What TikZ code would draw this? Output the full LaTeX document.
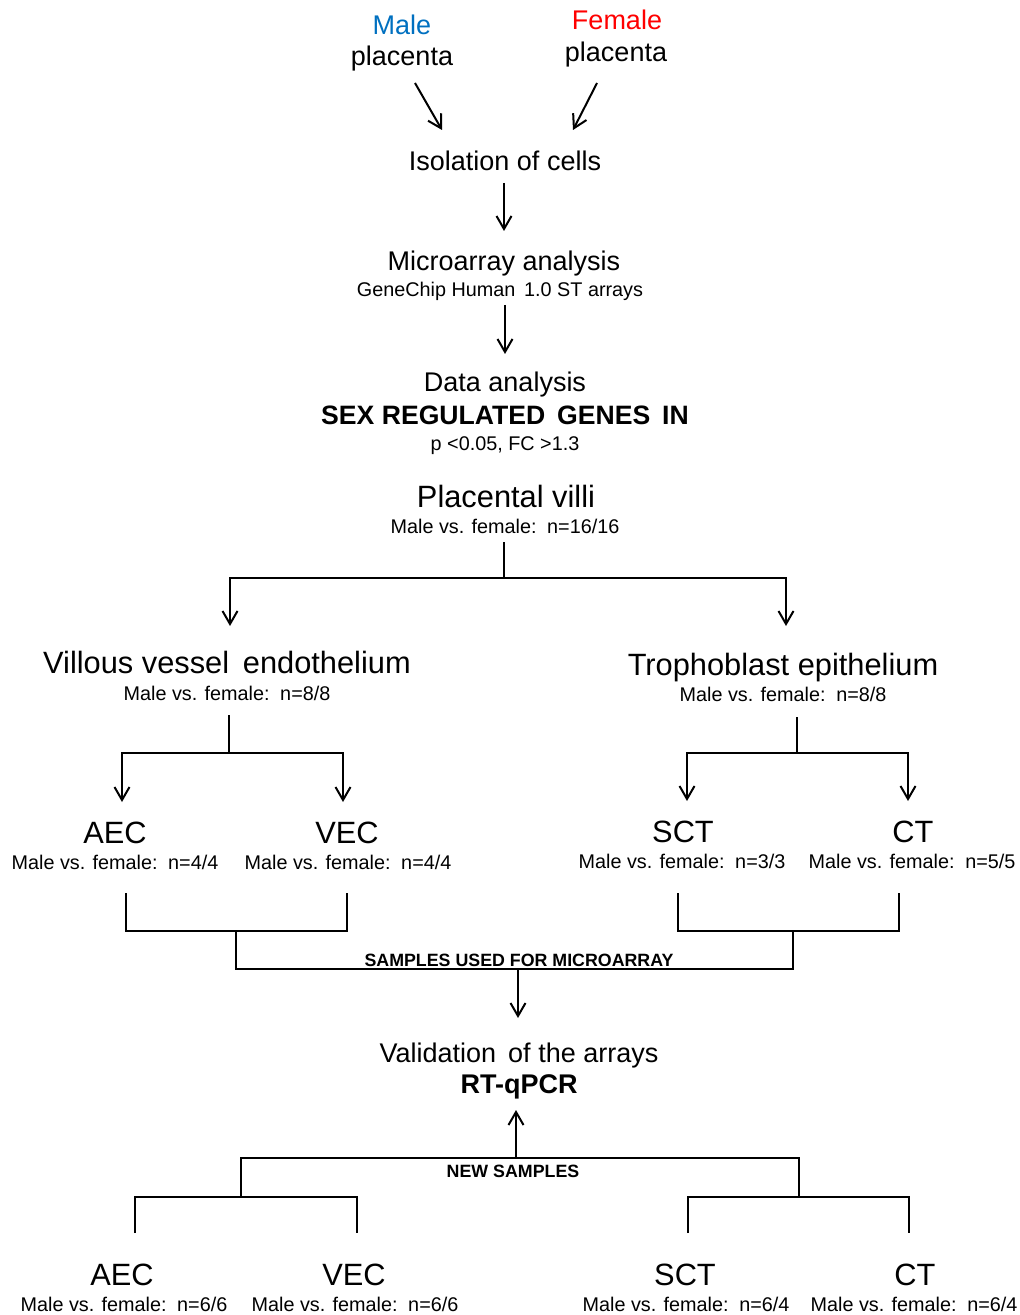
\documentclass[tikz,border=0pt]{standalone}
\usepackage{fontspec}
\setmainfont{Liberation Sans}
\usetikzlibrary{arrows.meta}
\definecolor{maleblue}{RGB}{0,112,192}
\definecolor{femalered}{RGB}{255,0,0}
\tikzset{
    big/.style={anchor=base, inner sep=0pt, font=\fontsize{15.4}{18}\selectfont},
    mid/.style={anchor=base, inner sep=0pt, font=\fontsize{13.5}{16}\selectfont},
    sml/.style={anchor=base, inner sep=0pt, font=\fontsize{9.9}{12}\selectfont},
    tag/.style={anchor=base, inner sep=0pt, font=\fontsize{8.9}{10}\selectfont\bfseries},
    link/.style={line width=1pt},
    arr/.style={line width=1pt, -{Straight Barb[length=6.5pt,width=7.5pt,line width=1pt]}}
}
\begin{document}
\begin{tikzpicture}[x=0.5pt, y=-0.5pt]
            \useasboundingbox (0,0) rectangle (1020,1315);
            \coordinate (maleOut) at (415,83);
            \coordinate (femaleOut) at (597,83);
            \coordinate (isoInL) at (442,130);
            \coordinate (isoInR) at (573,130);
            \coordinate (isoOut) at (504,183);
            \coordinate (chipIn) at (504,231);
            \coordinate (chipOut) at (505,305);
            \coordinate (dataIn) at (505,354);
            \coordinate (villiOut) at (504,542);
            \coordinate (villiFork) at (504,578);
            \coordinate (vveIn) at (230,626);
            \coordinate (trophIn) at (786,626);
            \coordinate (vveOut) at (229,715);
            \coordinate (vveFork) at (229,753);
            \coordinate (aecIn) at (122,802);
            \coordinate (vecIn) at (343,802);
            \coordinate (trophOut) at (797,717);
            \coordinate (trophFork) at (797,753);
            \coordinate (sctIn) at (687,801);
            \coordinate (ctIn) at (908,801);
            \coordinate (aecOut) at (126,893);
            \coordinate (vecOut) at (347,893);
            \coordinate (sctOut) at (678,893);
            \coordinate (ctOut) at (899,893);
            \coordinate (endoJoin) at (236,931);
            \coordinate (trophJoin) at (793,931);
            \coordinate (arrayJoin) at (518,969);
            \coordinate (validIn) at (518,1018);
            \coordinate (validUp) at (516,1110);
            \coordinate (newJoin) at (516,1158);
            \coordinate (newEndo) at (241,1197);
            \coordinate (newTroph) at (799,1197);
            \coordinate (newAEC) at (135,1233);
            \coordinate (newVEC) at (357,1233);
            \coordinate (newSCT) at (688,1233);
            \coordinate (newCT) at (909,1233);
            \node[mid, text=maleblue] (male) at (402,35) {Male};
            \node[mid] (maleP) at (402,66) {placenta};
            \node[mid, text=femalered] (female) at (617,30) {Female};
            \node[mid] (femaleP) at (616,62) {placenta};
            \node[mid] (iso) at (505,171) {Isolation of cells};
            \node[mid] (chip) at (504,271) {Microarray analysis};
            \node[sml] (chipN) at (500,297) {GeneChip Human\, 1.0 ST arrays};
            \node[mid] (data) at (505,392) {Data analysis};
            \node[mid, font=\fontsize{13.3}{16}\selectfont\bfseries] (sex) at (505,424) {SEX REGULATED\, GENES\, IN};
            \node[sml] (pval) at (505,451) {p <0.05, FC >1.3};
            \node[big] (villi) at (506,507) {Placental villi};
            \node[sml] (villiN) at (505,533) {Male vs. female:\, n=16/16};
            \node[big] (vve) at (227,673) {Villous vessel\, endothelium};
            \node[sml] (vveN) at (227,700) {Male vs. female:\, n=8/8};
            \node[big] (troph) at (783,675) {Trophoblast epithelium};
            \node[sml] (trophN) at (783,701) {Male vs. female:\, n=8/8};
            \node[big] (aec) at (115,843) {AEC};
            \node[sml] (aecN) at (115,869) {Male vs. female:\, n=4/4};
            \node[big] (vec) at (347,843) {VEC};
            \node[sml] (vecN) at (348,869) {Male vs. female:\, n=4/4};
            \node[big] (sct) at (683,842) {SCT};
            \node[sml] (sctN) at (682,868) {Male vs. female:\, n=3/3};
            \node[big] (ct) at (913,842) {CT};
            \node[sml] (ctN) at (912,868) {Male vs. female:\, n=5/5};
            \node[tag] (used) at (519,966) {SAMPLES USED FOR MICROARRAY};
            \node[mid] (valid) at (519,1062) {Validation\, of the arrays};
            \node[mid, font=\fontsize{13.5}{16}\selectfont\bfseries] (qpcr) at (519,1093) {RT-qPCR};
            \node[tag] (new) at (513,1177) {NEW SAMPLES};
            \node[big] (aec2) at (122,1285) {AEC};
            \node[sml] (aec2N) at (124,1311) {Male vs. female:\, n=6/6};
            \node[big] (vec2) at (354,1285) {VEC};
            \node[sml] (vec2N) at (355,1311) {Male vs. female:\, n=6/6};
            \node[big] (sct2) at (685,1285) {SCT};
            \node[sml] (sct2N) at (686,1311) {Male vs. female:\, n=6/4};
            \node[big] (ct2) at (915,1285) {CT};
            \node[sml] (ct2N) at (914,1311) {Male vs. female:\, n=6/4};
            \draw[arr] (maleOut) -- (isoInL);
            \draw[arr] (femaleOut) -- (isoInR);
            \draw[arr] (isoOut) -- (chipIn);
            \draw[arr] (chipOut) -- (dataIn);
            \draw[link] (villiOut) -- (villiFork);
            \draw[arr] (villiFork) -| (vveIn);
            \draw[arr] (villiFork) -| (trophIn);
            \draw[link] (vveOut) -- (vveFork);
            \draw[arr] (vveFork) -| (aecIn);
            \draw[arr] (vveFork) -| (vecIn);
            \draw[link] (trophOut) -- (trophFork);
            \draw[arr] (trophFork) -| (sctIn);
            \draw[arr] (trophFork) -| (ctIn);
            \draw[link] (aecOut) |- (endoJoin) -| (vecOut);
            \draw[link] (sctOut) |- (trophJoin) -| (ctOut);
            \draw[link] (endoJoin) |- (arrayJoin) -| (trophJoin);
            \draw[arr] (arrayJoin) -- (validIn);
            \draw[arr] (newJoin) -- (validUp);
            \draw[link] (newEndo) |- (newJoin) -| (newTroph);
            \draw[link] (newAEC) |- (newEndo) -| (newVEC);
            \draw[link] (newSCT) |- (newTroph) -| (newCT);
        \end{tikzpicture}
\end{document}
